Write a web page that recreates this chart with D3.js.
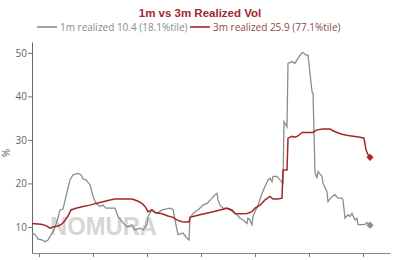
<!DOCTYPE html>
<html>
<head>
<meta charset="utf-8">
<script src="https://cdn.jsdelivr.net/npm/d3@7"></script>
<style>
  body { margin: 0; background: #fff; }
  svg { display: block; }
</style>
</head>
<body>
<div id="chart"></div>
<script>
// trading day index since start of window
var days1m = [0, 4, 6, 10, 13, 16, 18, 21, 23, 26, 28, 31, 34, 38, 41, 46, 49, 51, 54, 58,
  61, 64, 68, 71, 74, 79, 83, 86, 90, 95, 100, 103, 108, 111, 115, 116, 120, 125, 130, 138,
  141, 143, 146, 151, 155, 157, 158, 161, 166, 171, 175, 180, 183, 185, 186, 188, 191, 195,
  198, 201, 205, 208, 211, 215, 216, 218, 220, 221, 223, 226, 230, 233, 236, 238, 240, 241,
  245, 248, 251, 252, 254, 255, 256, 260, 263, 266, 270, 271, 274, 276, 280, 281, 283, 285,
  286, 290, 291, 295, 296, 300, 303, 306, 310, 311, 313, 316, 318, 320, 323, 325, 326, 330,
  333, 335, 338];
var vol1m = [8.7, 8.0, 7.2, 7.0, 6.6, 7.0, 7.8, 8.9, 10.0, 12.0, 13.9, 14.1, 17.0, 20.8, 22.0,
  22.3, 22.0, 21.0, 20.8, 19.7, 17.0, 15.4, 14.7, 15.0, 14.3, 14.3, 14.3, 12.4, 11.2, 10.0,
  10.5, 9.3, 9.7, 9.3, 10.5, 12.4, 13.9, 13.1, 13.9, 14.3, 14.0, 11.6, 8.2, 8.6, 7.4, 7.0,
  12.0, 13.1, 13.9, 15.0, 15.4, 16.6, 17.4, 17.7, 16.2, 15.0, 14.3, 14.3, 13.9, 13.5, 12.8,
  12.0, 11.6, 10.8, 12.0, 11.6, 10.5, 12.4, 13.5, 15.0, 17.7, 19.3, 20.8, 21.2, 20.4, 21.6,
  21.6, 20.8, 20.0, 34.2, 33.4, 33.0, 47.6, 48.0, 47.6, 48.8, 50.0, 50.1, 49.5, 49.5, 41.1,
  40.7, 22.5, 21.2, 22.7, 21.6, 20.0, 18.1, 15.8, 17.0, 17.4, 16.6, 16.6, 16.2, 12.0, 12.8,
  12.4, 13.1, 11.6, 12.0, 10.5, 10.5, 10.6, 11.0, 10.4];

var days3m = [0, 9, 14, 18, 21, 26, 29, 32, 36, 39, 44, 51, 58, 64, 71, 78, 83, 100, 105, 110,
  113, 116, 120, 123, 130, 136, 141, 145, 150, 155, 157, 158, 163, 170, 178, 188, 195, 200,
  203, 208, 215, 220, 223, 228, 233, 238, 241, 246, 250, 251, 255, 256, 260, 263, 266, 270,
  281, 285, 291, 298, 301, 305, 310, 316, 323, 328, 332, 334, 336, 338];
var vol3m = [10.8, 10.6, 10.3, 9.7, 10.0, 10.2, 10.5, 11.2, 12.5, 13.9, 14.3, 14.7, 15.0, 15.4,
  15.8, 16.2, 16.4, 16.4, 16.0, 15.4, 14.7, 13.5, 13.9, 13.3, 13.0, 12.5, 12.2, 11.6, 11.2,
  11.1, 11.1, 12.2, 12.5, 12.9, 13.3, 13.9, 14.3, 13.9, 13.1, 13.0, 13.1, 13.5, 14.3, 15.0,
  16.2, 17.0, 16.4, 16.4, 16.6, 23.1, 23.1, 30.4, 30.8, 30.6, 30.9, 31.7, 31.7, 32.3, 32.5,
  32.5, 32.1, 31.7, 31.3, 31.0, 30.8, 30.6, 30.4, 27.7, 26.6, 26.0];

var xTicks = [7, 61, 115, 169, 223, 277, 331];
var yTicks = [10, 20, 30, 40, 50];
var legendLabels = ["1m realized 10.4 (18.1%tile)", "3m realized 25.9 (77.1%tile)"];

var width = 400, height = 260;
var margin = { top: 42, right: 10, bottom: 7, left: 32 };

var svg = d3.select("#chart")
  .append("svg")
  .attr("width", width)
  .attr("height", height);

var x = d3.scaleLinear().domain([0, 358]).range([margin.left, width - margin.right]);
var y = d3.scaleLinear().domain([4, 52.5]).range([height - margin.bottom, margin.top]);

// watermark
svg.append("text")
  .attr("x", x(18))
  .attr("y", y(8.2))
  .attr("textLength", 107)
  .attr("lengthAdjust", "spacingAndGlyphs")
  .style("font", "bold 26px 'Liberation Sans', Arial, sans-serif")
  .style("fill", "#d6d6d6")
  .text("NOMURA");

// title
svg.append("text")
  .attr("x", 200)
  .attr("y", 17)
  .attr("text-anchor", "middle")
  .style("font", "bold 11.5px 'Liberation Sans', Arial, sans-serif")
  .style("fill", "#a3262b")
  .text("1m vs 3m Realized Vol");

// legend
var legend = [
  { x: 37, color: "#8c8c8c", text: "#8a8a8a" },
  { x: 190, color: "#a3262b", text: "#8b4848" }
];
legend.forEach(function (d, i) {
  svg.append("line")
    .attr("x1", d.x).attr("x2", d.x + 20)
    .attr("y1", 27).attr("y2", 27)
    .style("stroke", d.color)
    .style("stroke-width", 1.6);
  svg.append("text")
    .attr("x", d.x + 23)
    .attr("y", 30.5)
    .style("font", "10px 'Open Sans', sans-serif")
    .style("fill", d.text)
    .text(legendLabels[i]);
});

// y axis
var yAxis = svg.append("g")
  .attr("transform", "translate(" + margin.left + ",0)")
  .call(d3.axisLeft(y).tickValues(yTicks).tickSize(4).tickSizeOuter(0));
yAxis.select(".domain").style("stroke", "#666");
yAxis.selectAll(".tick line").style("stroke", "#777");
yAxis.selectAll("text")
  .attr("x", -5)
  .style("font", "10px 'Open Sans', sans-serif")
  .style("fill", "#666");

svg.append("text")
  .attr("transform", "translate(10," + y(27) + ") rotate(-90)")
  .attr("text-anchor", "middle")
  .style("font", "10px 'Open Sans', sans-serif")
  .style("fill", "#666")
  .text("%");

// x axis (no labels)
var xAxis = svg.append("g")
  .attr("transform", "translate(0," + (height - margin.bottom) + ")")
  .call(d3.axisBottom(x).tickValues(xTicks).tickSize(4).tickSizeOuter(0).tickFormat(""));
xAxis.select(".domain").style("stroke", "#888");
xAxis.selectAll(".tick line").style("stroke", "#777");

// lines
var line = d3.line()
  .x(function (d) { return x(d[0]); })
  .y(function (d) { return y(d[1]); });

var data1m = d3.zip(days1m, vol1m);
var data3m = d3.zip(days3m, vol3m);

svg.append("path")
  .datum(data1m)
  .attr("d", line)
  .style("fill", "none")
  .style("stroke", "#8c8c8c")
  .style("stroke-width", 1.3);

svg.append("path")
  .datum(data3m)
  .attr("d", line)
  .style("fill", "none")
  .style("stroke", "#a3262b")
  .style("stroke-width", 1.5);

// end markers
var diamond = d3.symbol().type(d3.symbolSquare).size(26);
[[data1m, "#8c8c8c"], [data3m, "#b0262b"]].forEach(function (s) {
  var last = s[0][s[0].length - 1];
  svg.append("path")
    .attr("d", diamond)
    .attr("transform", "translate(" + x(last[0]) + "," + y(last[1]) + ") rotate(45)")
    .style("fill", s[1]);
});
</script>
</body>
</html>
